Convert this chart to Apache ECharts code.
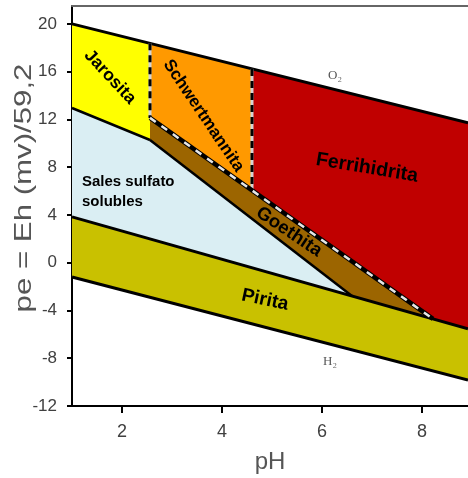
<!DOCTYPE html>
<html><head><meta charset="utf-8">
<script src="https://cdn.jsdelivr.net/npm/echarts@6/dist/echarts.min.js"></script>
<style>html,body{margin:0;padding:0;background:#fff}#c{width:468px;height:478px}</style>
</head><body><div id="c"></div>
<script>
// ---- axis ranges & ticks ----
const xMin = 1, xMax = 8.92;
const yMin = -12, yMax = 21.5;
const xTicks = [2, 4, 6, 8];
const yTicks = [-12, -8, -4, 0, 4, 8, 12, 16, 20];

// ---- stability fields (pH, pe) ----
const jarosita       = [[1, 20], [2.56, 18.37], [2.56, 10.28], [1, 12.96]];
const schwertmannita = [[2.56, 18.37], [4.6, 16.23], [4.6, 6.1], [2.56, 12.13]];
const ferrihidrita   = [[4.6, 16.23], [8.92, 11.71], [8.92, -5.54], [8.22, -4.71], [4.6, 6.1]];
const goethita       = [[2.56, 12.13], [4.6, 6.1], [8.22, -4.71], [6.6, -2.79], [2.56, 10.28]];
const salesSulfato   = [[1, 12.96], [2.56, 10.28], [6.6, -2.79], [1, 3.84]];
const pirita         = [[1, 3.84], [6.6, -2.79], [8.22, -4.71], [8.92, -5.54], [8.92, -9.82], [1, -1.19]];

// ---- boundary lines ----
const o2Line       = [[1, 20], [8.92, 11.71]];
const h2Line       = [[1, -1.19], [8.92, -9.82]];
const piritaTop    = [[1, 3.84], [8.92, -5.54]];
const jarositaBase = [[1, 12.96], [2.56, 10.28]];
const goethitaBase = [[2.56, 10.28], [6.6, -2.79]];
const dashJarSch   = [[2.56, 18.37], [2.56, 12.13]];
const dashSchFer   = [[4.6, 16.23], [4.6, 6.1]];
const dashGoethita = [[2.56, 12.13], [8.22, -4.71]];

// ---- label texts ----
const labelTexts = ['Jarosita', 'Schwertmannita', 'Ferrihidrita', 'Goethita', 'Pirita', 'Sales sulfato\nsolubles', 'O\u2082', 'H\u2082'];
const labelAnchors = [[1.76, 15.56], [3.63, 12.3], [6.9, 7.94], [5.34, 2.58], [4.86, -3.12], [1.2, 7.6], [6.26, 15.64], [6.16, -8.3]];

const FONT = "'Liberation Sans', Arial, sans-serif";
const labelStyles = [
  {rot: -47, font: `bold 17.5px ${FONT}`},
  {rot: -56, font: `bold 17px ${FONT}`},
  {rot: -9.5, font: `bold 19.5px ${FONT}`},
  {rot: -34, font: `bold 18.5px ${FONT}`},
  {rot: -12, font: `bold 19px ${FONT}`},
  {rot: 0, font: `bold 15px ${FONT}`, align: 'left', va: 'top', lh: 20},
  {rot: 0, font: `13px 'Liberation Serif', 'DejaVu Serif', serif`, color: '#555'},
  {rot: 0, font: `13px 'Liberation Serif', 'DejaVu Serif', serif`, color: '#555'}
];

const regions = [
  {pts: salesSulfato, color: '#DAEEF3'},
  {pts: pirita, color: '#C9C100'},
  {pts: jarosita, color: '#FFFF00'},
  {pts: schwertmannita, color: '#FF9900'},
  {pts: ferrihidrita, color: '#C00000'},
  {pts: goethita, color: '#9C6500'}
];

function lineSeries(pts, color, width, type, z) {
  return {
    type: 'line', data: pts, symbol: 'none', showSymbol: false, silent: true,
    animation: false, z: z, clip: false,
    lineStyle: {color: color, width: width, type: type || 'solid', cap: 'butt'},
    emphasis: {disabled: true}
  };
}

const chart = echarts.init(document.getElementById('c'), null, {renderer: 'canvas'});
chart.setOption({
  animation: false,
  backgroundColor: '#fff',
  grid: {left: 72, right: 0, top: 6, bottom: 72, containLabel: false, outerBoundsMode: 'none'},
  xAxis: [{
    type: 'value', min: xMin, max: xMax, position: 'bottom',
    name: 'pH', nameLocation: 'middle', nameGap: 44,
    nameTextStyle: {fontSize: 24, color: '#555', fontFamily: FONT},
    axisLine: {show: true, onZero: false, lineStyle: {color: '#000', width: 2}},
    axisTick: {show: true, length: 7, customValues: xTicks, lineStyle: {color: '#000', width: 2}},
    axisLabel: {show: true, customValues: xTicks, fontSize: 18, color: '#404040', fontFamily: FONT, margin: 17},
    splitLine: {show: false}
  }, {
    type: 'value', min: xMin, max: xMax, position: 'top',
    axisLine: {show: true, onZero: false, lineStyle: {color: '#666', width: 2}},
    axisTick: {show: false}, axisLabel: {show: false}, splitLine: {show: false}
  }],
  yAxis: {
    type: 'value', min: yMin, max: yMax,
    axisLine: {show: true, onZero: false, lineStyle: {color: '#000', width: 2}},
    axisTick: {show: true, length: 5, customValues: yTicks, lineStyle: {color: '#000', width: 2}},
    axisLabel: {show: true, customValues: yTicks, fontSize: 17, color: '#404040', fontFamily: FONT, margin: 15},
    splitLine: {show: false}
  },
  graphic: [{
    type: 'text', x: 24, y: 188, rotation: Math.PI / 2, scaleX: 1.3,
    style: {text: 'pe = Eh (mv)/59,2', font: `24px ${FONT}`, fill: '#555', align: 'center', verticalAlign: 'middle'},
    silent: true
  }],
  series: [
    {
      type: 'custom', coordinateSystem: 'cartesian2d', silent: true, animation: false, z: 1,
      data: regions.map(r => r.pts[0]),
      renderItem: function (params, api) {
        const r = regions[params.dataIndex];
        return {type: 'polygon', shape: {points: r.pts.map(p => api.coord(p))}, style: {fill: r.color, stroke: null}};
      }
    },
    lineSeries(o2Line, '#000', 3, 'solid', 3),
    lineSeries(h2Line, '#000', 3, 'solid', 3),
    lineSeries(piritaTop, '#000', 3, 'solid', 3),
    lineSeries(jarositaBase, '#000', 2.5, 'solid', 3),
    lineSeries(goethitaBase, '#000', 2.5, 'solid', 3),
    lineSeries(dashJarSch, '#d4d4d4', 3, 'solid', 4),
    lineSeries(dashJarSch, '#000', 3, [7, 5], 5),
    lineSeries(dashSchFer, '#d4d4d4', 3, 'solid', 4),
    lineSeries(dashSchFer, '#000', 3, [7, 5], 5),
    lineSeries(dashGoethita, '#000', 4.5, 'solid', 4),
    lineSeries(dashGoethita, '#e6e6e6', 2.5, [7, 7], 5),
    {
      type: 'custom', coordinateSystem: 'cartesian2d', silent: true, animation: false, z: 10,
      data: labelAnchors,
      renderItem: function (params, api) {
        const s = labelStyles[params.dataIndex];
        const p = api.coord([api.value(0), api.value(1)]);
        return {
          type: 'text', x: p[0], y: p[1], rotation: s.rot * Math.PI / 180,
          style: {
            text: labelTexts[params.dataIndex], font: s.font, fill: s.color || '#000',
            align: s.align || 'center', verticalAlign: s.va || 'middle', lineHeight: s.lh
          }
        };
      }
    }
  ]
});
</script>
</body></html>
